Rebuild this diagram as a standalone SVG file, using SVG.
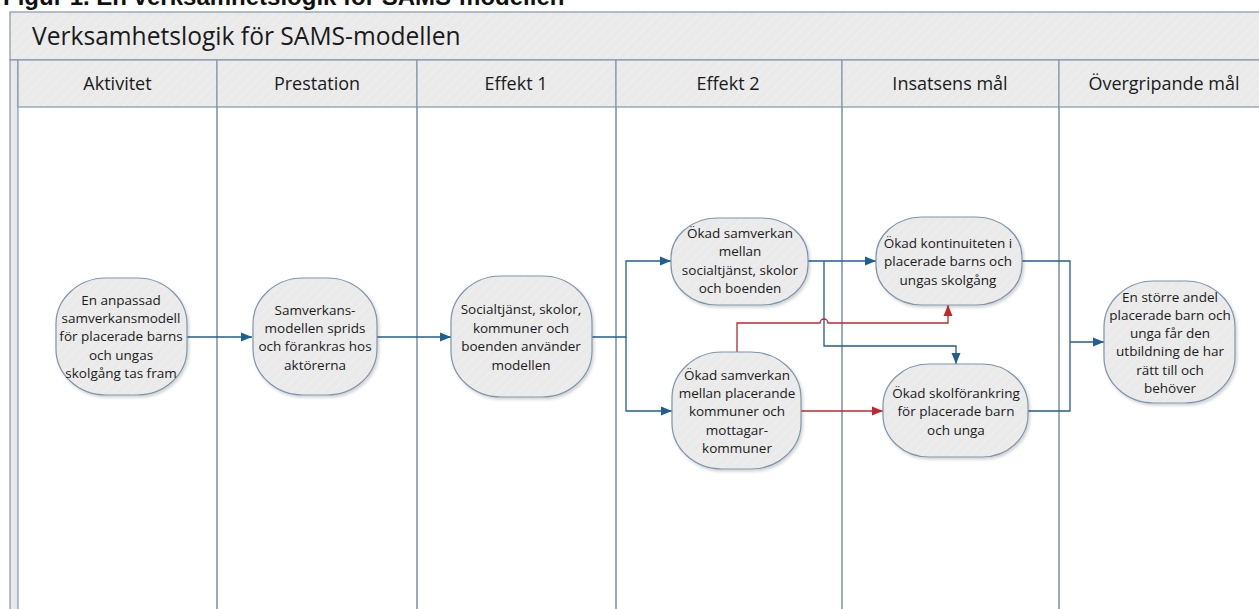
<svg xmlns="http://www.w3.org/2000/svg" width="1259" height="609" viewBox="0 0 1259 609">
<style>
.frame{fill:url(#hatch);stroke:#8296ab;stroke-width:1.2}
.lane{fill:none;stroke:#7c90a6;stroke-width:1.5}
.hdr{font-family:"Open Sans","Noto Sans",sans-serif;font-size:18px;fill:#1a1a1a;text-anchor:middle}
.title{font-family:"Open Sans","Noto Sans",sans-serif;font-size:24.6px;fill:#1a1a1a}
.cap{font-family:"Liberation Sans",Arial,sans-serif;font-size:24px;font-weight:bold;fill:#111}
.node rect{fill:url(#hatch);stroke:#7f95ab;stroke-width:1.2;filter:url(#sh)}
.node text{font-family:"Open Sans","Noto Sans",sans-serif;font-size:13.5px;fill:#1a1a1a;text-anchor:middle}
.blue{fill:none;stroke:#1f5f94;stroke-width:1.3}
.red{fill:none;stroke:#c1272d;stroke-width:1.3}
</style>
<defs>
<pattern id="hatch" patternUnits="userSpaceOnUse" width="7" height="7" patternTransform="rotate(45)">
<rect width="7" height="7" fill="#eaeaea"/>
<line x1="0" y1="0" x2="0" y2="7" stroke="#f3f3f3" stroke-width="1.2"/>
</pattern>
<filter id="sh" x="-10%" y="-10%" width="125%" height="125%">
<feDropShadow dx="1.5" dy="2" stdDeviation="1.5" flood-color="#000" flood-opacity="0.18"/>
</filter>
<marker id="ab" markerUnits="userSpaceOnUse" markerWidth="12" markerHeight="12" refX="11" refY="6" orient="auto">
<path d="M0,1.5 L11,6 L0,10.5 Z" fill="#1f5f94"/>
</marker>
<marker id="ar" markerUnits="userSpaceOnUse" markerWidth="12" markerHeight="12" refX="11" refY="6" orient="auto">
<path d="M0,1.5 L11,6 L0,10.5 Z" fill="#c1272d"/>
</marker>
</defs>
<rect width="1259" height="609" fill="#ffffff"/>
<text class="cap" x="3" y="5">Figur 1. En verksamhetslogik för SAMS-modellen</text>
<g id="pool">
<rect class="frame" x="10" y="12" width="1262" height="48"/>
<text class="title" x="32" y="45">Verksamhetslogik för SAMS-modellen</text>
<rect x="10" y="60" width="8" height="560" fill="#e8e8e8" stroke="#8296ab" stroke-width="1.2"/>
<rect class="frame" x="18" y="60" width="199" height="47"/>
<rect class="frame" x="217" y="60" width="200" height="47"/>
<rect class="frame" x="417" y="60" width="199" height="47"/>
<rect class="frame" x="616" y="60" width="226" height="47"/>
<rect class="frame" x="842" y="60" width="217" height="47"/>
<rect class="frame" x="1059" y="60" width="213" height="47"/>
<text class="hdr" x="117.5" y="90">Aktivitet</text>
<text class="hdr" x="317" y="90">Prestation</text>
<text class="hdr" x="516" y="90">Effekt 1</text>
<text class="hdr" x="728" y="90">Effekt 2</text>
<text class="hdr" x="950" y="90">Insatsens mål</text>
<text class="hdr" x="1164" y="90">Övergripande mål</text>
<path class="lane" d="M217,107V609M417,107V609M616,107V609M842,107V609M1059,107V609"/>
</g>
<g id="connectors">
<path class="blue" d="M187,337H252" marker-end="url(#ab)"/>
<path class="blue" d="M377,337H451" marker-end="url(#ab)"/>
<path class="blue" d="M592,337H626V261H671" marker-end="url(#ab)"/>
<path class="blue" d="M626,337V411H672" marker-end="url(#ab)"/>
<path class="blue" d="M808,261H876" marker-end="url(#ab)"/>
<path class="blue" d="M824,261V346H956V364" marker-end="url(#ab)"/>
<path class="red" d="M737,352V323H820a4,4 0 0 1 8,0H948V305" marker-end="url(#ar)"/>
<path class="red" d="M801,411H883" marker-end="url(#ar)"/>
<path class="blue" d="M1022,261H1070V411H1028"/>
<path class="blue" d="M1070,342H1104" marker-end="url(#ab)"/>
</g>
<g id="n1" class="node">
<rect x="56" y="278" width="131" height="117" rx="50" ry="46"/>
<text x="121" y="305">En anpassad</text>
<text x="121" y="323">samverkansmodell</text>
<text x="121" y="341">för placerade barns</text>
<text x="121" y="360">och ungas</text>
<text x="121" y="378">skolgång tas fram</text>
</g>
<g id="n2" class="node">
<rect x="253" y="278" width="124" height="117" rx="50" ry="46"/>
<text x="315" y="315">Samverkans-</text>
<text x="315" y="333">modellen sprids</text>
<text x="315" y="351">och förankras hos</text>
<text x="315" y="370">aktörerna</text>
</g>
<g id="n3" class="node">
<rect x="451" y="276" width="141" height="121" rx="50" ry="46"/>
<text x="521" y="314">Socialtjänst, skolor,</text>
<text x="521" y="333">kommuner och</text>
<text x="521" y="351">boenden använder</text>
<text x="521" y="370">modellen</text>
</g>
<g id="n4" class="node">
<rect x="671" y="218" width="137" height="87" rx="46" ry="40"/>
<text x="740" y="238">Ökad samverkan</text>
<text x="740" y="256">mellan</text>
<text x="740" y="275">socialtjänst, skolor</text>
<text x="740" y="293">och boenden</text>
</g>
<g id="n5" class="node">
<rect x="672" y="352" width="129" height="117" rx="50" ry="46"/>
<text x="737" y="380">Ökad samverkan</text>
<text x="737" y="398">mellan placerande</text>
<text x="737" y="416">kommuner och</text>
<text x="737" y="435">mottagar-</text>
<text x="737" y="453">kommuner</text>
</g>
<g id="n6" class="node">
<rect x="876" y="217" width="146" height="88" rx="46" ry="40"/>
<text x="948" y="248">Ökad kontinuiteten i</text>
<text x="948" y="266">placerade barns och</text>
<text x="948" y="285">ungas skolgång</text>
</g>
<g id="n7" class="node">
<rect x="883" y="364" width="145" height="93" rx="46" ry="42"/>
<text x="956" y="398">Ökad skolförankring</text>
<text x="956" y="416">för placerade barn</text>
<text x="956" y="435">och unga</text>
</g>
<g id="n8" class="node">
<rect x="1104" y="281" width="131" height="122" rx="50" ry="46"/>
<text x="1170" y="302">En större andel</text>
<text x="1170" y="320">placerade barn och</text>
<text x="1170" y="338">unga får den</text>
<text x="1170" y="356">utbildning de har</text>
<text x="1170" y="375">rätt till och</text>
<text x="1170" y="393">behöver</text>
</g>
</svg>
